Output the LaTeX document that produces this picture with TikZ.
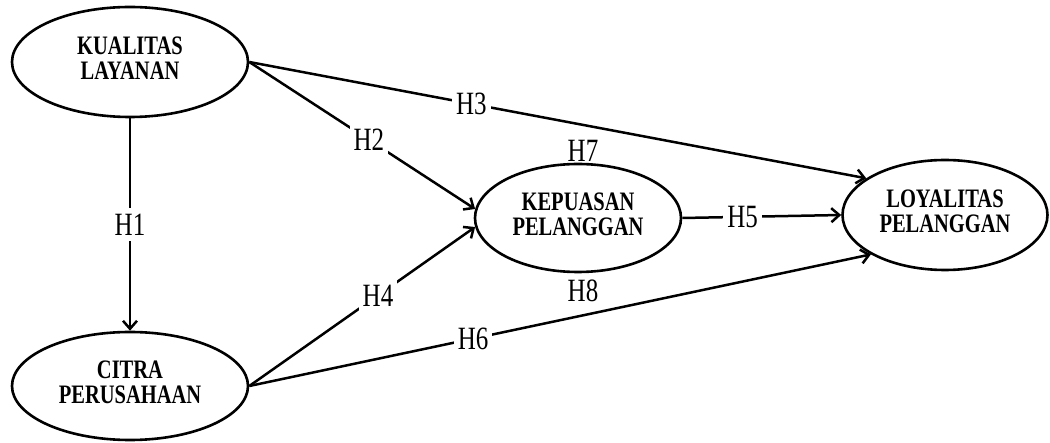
\documentclass[tikz,border=0pt]{standalone}
\usepackage{fontspec}
\setmainfont{Liberation Serif}
\usetikzlibrary{shapes.geometric,arrows.meta}
\newcommand{\tallbox}[1]{\scalebox{1}[1.3]{#1}}
\tikzset{
  var/.style={draw, ellipse, line width=2.6pt, inner sep=0pt, align=center,
    font=\fontsize{20.5}{19.5}\selectfont\bfseries},
  link/.style={line width=2.5pt, -{Straight Barb[length=8pt,width=14pt,line width=2.5pt]}},
  hyp/.style={fill=white, inner xsep=4pt, inner ysep=6pt, font=\fontsize{25}{27}\selectfont},
  hyptext/.style={inner sep=0pt, font=\fontsize{25}{27}\selectfont}
}
\begin{document}
\begin{tikzpicture}[x=1pt,y=-1pt]
\useasboundingbox[fill=white] (0,0) rectangle (1050,443);
\node[var, minimum width=236pt, minimum height=110pt] (KL) at (130,62)
  {\tallbox{\begin{tabular}{@{}c@{}}KUALITAS\\LAYANAN\end{tabular}}};
\node[var, minimum width=236pt, minimum height=108pt] (CP) at (130,386)
  {\tallbox{\begin{tabular}{@{}c@{}}CITRA\\PERUSAHAAN\end{tabular}}};
\node[var, minimum width=206pt, minimum height=108pt] (KP) at (578,218)
  {\tallbox{\begin{tabular}{@{}c@{}}KEPUASAN\\PELANGGAN\end{tabular}}};
\node[var, minimum width=205pt, minimum height=110pt] (LP) at (945,215)
  {\tallbox{\begin{tabular}{@{}c@{}}LOYALITAS\\PELANGGAN\end{tabular}}};

\draw[link] (KL.south) -- node[hyp, pos=0.5] {\tallbox{H1}} (CP.north);
\draw[link] (KL.east) -- node[hyp, pos=0.53] {\tallbox{H2}} (KP.175);
\draw[link] (KL.east) -- node[hyp, pos=0.36] {\tallbox{H3}} (LP.155);
\draw[link] (CP.east) -- node[hyp, pos=0.57] {\tallbox{H4}} (KP.185);
\draw[link] (KP.east) -- node[hyp, pos=0.38] {\tallbox{H5}} (LP.west);
\draw[link] (CP.east) -- node[hyp, pos=0.36] {\tallbox{H6}} (LP.208);

\node[hyptext] (H7) at (583,151) {\tallbox{H7}};
\node[hyptext] (H8) at (583,291) {\tallbox{H8}};
\end{tikzpicture}
\end{document}
